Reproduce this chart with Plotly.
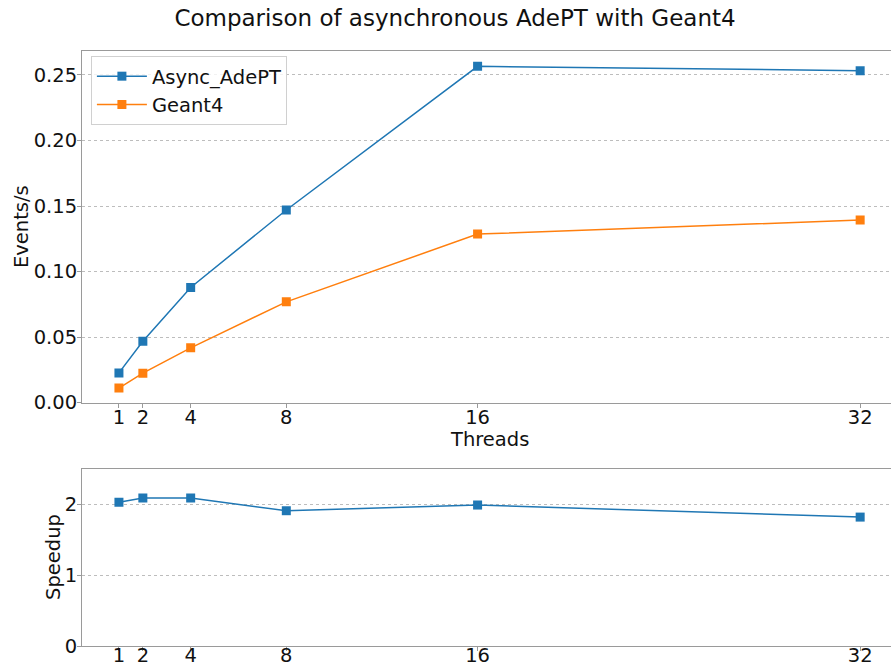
import plotly.graph_objects as go

threads = [1, 2, 4, 8, 16, 32]
async_adept = [0.0227, 0.0469, 0.0879, 0.147, 0.2566, 0.2533]
geant4 = [0.0111, 0.0225, 0.0418, 0.0769, 0.1286, 0.1393]
speedup = [2.03, 2.09, 2.09, 1.91, 1.99, 1.82]
tick_labels = ["1", "2", "4", "8", "16", "32"]
events_ticks = [0.0, 0.05, 0.10, 0.15, 0.20, 0.25]
speedup_ticks = [0, 1, 2]

BLUE = "#1f77b4"
ORANGE = "#ff7f0e"
FONT = "DejaVu Sans"
SPINE = "#9a9a9a"
GRID = "#bdbdbd"
FS = 19.5

fig = go.Figure()
fig.add_trace(go.Scatter(x=threads, y=async_adept, name="Async_AdePT", mode="lines+markers",
                         line=dict(color=BLUE, width=1.5),
                         marker=dict(symbol="square", size=9, color=BLUE),
                         xaxis="x", yaxis="y"))
fig.add_trace(go.Scatter(x=threads, y=geant4, name="Geant4", mode="lines+markers",
                         line=dict(color=ORANGE, width=1.5),
                         marker=dict(symbol="square", size=9, color=ORANGE),
                         xaxis="x", yaxis="y"))
fig.add_trace(go.Scatter(x=threads, y=speedup, name="Speedup", mode="lines+markers",
                         line=dict(color=BLUE, width=1.5),
                         marker=dict(symbol="square", size=9, color=BLUE),
                         showlegend=False, xaxis="x2", yaxis="y2"))

xrange = [-0.545, 33.29]
common_x = dict(range=xrange, tickvals=threads, ticktext=tick_labels, showgrid=False,
                zeroline=False, showline=True, linecolor=SPINE, linewidth=1, mirror=True,
                ticks="outside", ticklen=4, tickcolor=SPINE,
                tickfont=dict(family=FONT, size=FS, color="#111"))
common_y = dict(showgrid=True, gridcolor=GRID, griddash="dot", gridwidth=1,
                zeroline=False, showline=True, linecolor=SPINE, linewidth=1,
                ticks="outside", ticklen=4, tickcolor=SPINE, ticklabelstandoff=-4,
                tickfont=dict(family=FONT, size=FS, color="#111"))

fig.update_layout(
    width=891, height=667,
    margin=dict(l=82, r=0, t=51, b=21, autoexpand=False),
    paper_bgcolor="white", plot_bgcolor="white",
    font=dict(family=FONT, color="#111"),
    title=dict(text="Comparison of asynchronous AdePT with Geant4", xref="container",
               x=455/891, xanchor="center", yref="container", y=1 - 18/667, yanchor="middle",
               font=dict(family=FONT, size=23, color="#111")),
    xaxis=dict(common_x, domain=[0, 1], anchor="y", ticklabelstandoff=-7),
    yaxis=dict(common_y, domain=[0.409, 1], range=[0, 0.2683], tickvals=events_ticks,
               tickformat=".2f", anchor="x"),
    xaxis2=dict(common_x, domain=[0, 1], anchor="y2", ticklabelstandoff=-12),
    yaxis2=dict(common_y, domain=[0, 0.297], range=[0, 2.495], tickvals=speedup_ticks,
                anchor="x2"),
    legend=dict(x=0.011, y=0.9916, xanchor="left", yanchor="top", itemwidth=50,
                bgcolor="rgba(255,255,255,0.8)", bordercolor="#d0d0d0", borderwidth=1,
                font=dict(family=FONT, size=FS, color="#111")),
    showlegend=True,
)

fig.add_annotation(text="Events/s", xref="paper", yref="paper", x=(22 - 82) / 809,
                   y=(646 - 227) / 595, textangle=-90, showarrow=False,
                   xanchor="center", yanchor="middle",
                   font=dict(family=FONT, size=FS, color="#111"))
fig.add_annotation(text="Speedup", xref="paper", yref="paper", x=(53 - 82) / 809,
                   y=(646 - 557) / 595, textangle=-90, showarrow=False,
                   xanchor="center", yanchor="middle",
                   font=dict(family=FONT, size=FS, color="#111"))
fig.add_annotation(text="Threads", xref="paper", yref="paper", x=(489 - 82) / 809,
                   y=(646 - 439) / 595, showarrow=False,
                   xanchor="center", yanchor="middle",
                   font=dict(family=FONT, size=FS, color="#111"))

fig.write_html("out.html")
